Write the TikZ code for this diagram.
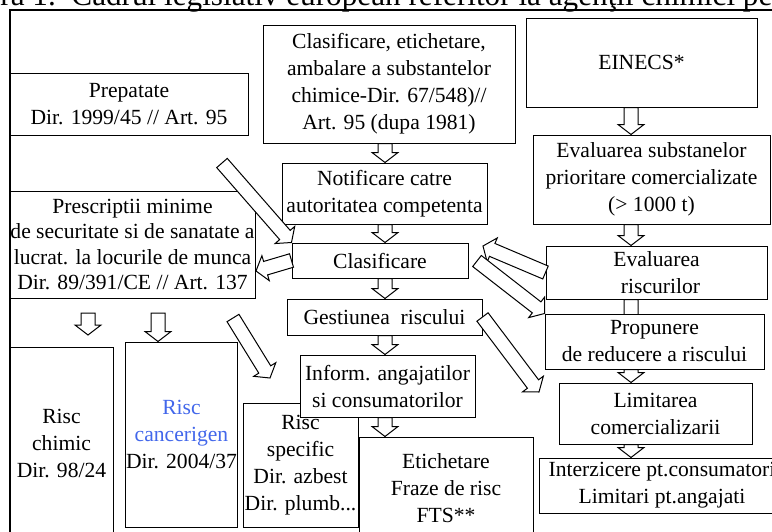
\documentclass[tikz,border=0pt]{standalone}
\usepackage{fontspec}
\setmainfont{Liberation Serif}
\usepackage{xcolor}
\usetikzlibrary{calc,backgrounds}
\definecolor{riscblue}{RGB}{66,103,235}

% hollow block arrow from #1 to #2
\newcommand{\fatarrow}[2]{%
  \coordinate (fa-h) at ($(#2)!5pt!(#1)$);
  \draw[fatline] ($(#1)!3.5pt!90:(#2)$) -- ($(fa-h)!3.5pt!90:(#2)$)
    -- ($(fa-h)!6.5pt!90:(#2)$) -- (#2) -- ($(fa-h)!6.5pt!-90:(#2)$)
    -- ($(fa-h)!3.5pt!-90:(#2)$) -- ($(#1)!3.5pt!-90:(#2)$) -- cycle;}

\begin{document}
\begin{tikzpicture}[x=0.5pt, y=-0.5pt,
  box/.style={draw, line width=0.5pt, fill=white, align=center, inner sep=0pt,
    font=\fontsize{10.8}{13.5}\selectfont},
  fatline/.style={line width=0.5pt, draw=black, fill=white, line join=miter}]
  \useasboundingbox (0,0) rectangle (772,531);

  %title, cut at the top
  \node[anchor=base west, inner sep=0pt, font=\fontsize{15.6}{18}\selectfont] (title) at (0,5)
    {ra 1.\ \ Cadrul legislativ european referitor la agenţii chimici per};

  %top row
  \node[box, minimum width=119pt, minimum height=31pt] (prep) at (129,104)
    {Prepatate\\Dir. 1999/45 // Art. 95};
  \node[box, minimum width=126pt, minimum height=59pt] (cet) at (389,84)
    {Clasificare, etichetare,\\ambalare a substantelor\\chimice-Dir. 67/548)//\\Art. 95 (dupa 1981)};
  \node[box, minimum width=115.5pt, minimum height=44.5pt] (einecs) at (641.5,62.5) {EINECS*};

  %middle column
  \node[box, minimum width=102.5pt, minimum height=30.5pt] (notif) at (384.5,193.5)
    {Notificare catre\\autoritatea competenta};
  \node[box, minimum width=88pt, minimum height=17.5pt] (clas) at (380,260.5) {Clasificare};
  \node[box, minimum width=97.5pt, minimum height=18pt] (gest) at (384.5,317)
    {Gestiunea\ \ riscului};

  %right column
  \node[box, minimum width=118.5pt, minimum height=44.5pt] (evs) at (651.5,179.5)
    {Evaluarea substanelor\\prioritare comercializate\\(> 1000 t)};
  \node[box, minimum width=110.5pt, minimum height=26.5pt] (evr) at (656.5,272.5)
    {Evaluarea\\\hspace*{4pt}riscurilor};
  \node[box, minimum width=109.5pt, minimum height=27.5pt] (prop) at (654.5,341.5)
    {Propunere\\de reducere a riscului};
  \node[box, minimum width=96.5pt, minimum height=30.5pt] (limit) at (655.5,413.5)
    {Limitarea\\comercializarii};
  \node[box, minimum width=123pt, minimum height=27.5pt] (interz) at (662,485.5)
    {Interzicere pt.consumatori\\Limitari pt.angajati};

  %left boxes
  \node[box, minimum width=122.5pt, minimum height=53.5pt, font=\fontsize{10.8}{12.8}\selectfont] (presc) at (132.5,244.5)
    {Prescriptii minime\\de securitate si de sanatate a\\lucrat. la locurile de munca\\Dir. 89/391/CE // Art. 137};
  \node[box, minimum width=51.5pt, minimum height=96.5pt] (chim) at (61.5,443.5)
    {Risc\\chimic\\Dir. 98/24};
  \node[box, minimum width=54.5pt, minimum height=92.5pt] (canc) at (181.5,434.5)
    {\textcolor{riscblue}{Risc}\\\textcolor{riscblue}{cancerigen}\\Dir. 2004/37};
  \node[box, minimum width=57.5pt, minimum height=62pt] (spec) at (300.5,465)
    {Risc\\specific\\Dir. azbest\\Dir. plumb...};
  \node[box, minimum width=87.5pt, minimum height=31pt] (inform) at (387.5,386)
    {Inform. angajatilor\\si consumatorilor};
  \node[box, minimum width=87pt, minimum height=51.5pt] (etich) at (446,488.5)
    {Etichetare\\Fraze de risc\\FTS**};

  %arrow columns and free ends
  \coordinate (mcol) at (385,0);
  \coordinate (rcol) at (631,0);
  \coordinate (s1) at (222,163);
  \coordinate (t2) at (256,271);
  \coordinate (t3) at (483,246);
  \coordinate (s4) at (477,261);
  \coordinate (t5) at (539,392);
  \coordinate (s6) at (233,318);
  \coordinate (t6) at (270,378);
  \coordinate (s7) at (88,313);
  \coordinate (t7) at (88,335);
  \coordinate (s8) at (158,313);

  %down arrows
  \fatarrow{mcol |- cet.south}{mcol |- notif.north}
  \fatarrow{mcol |- notif.south}{mcol |- clas.north}
  \fatarrow{mcol |- clas.south}{mcol |- gest.north}
  \fatarrow{mcol |- gest.south}{mcol |- inform.north}
  \fatarrow{mcol |- inform.south}{mcol |- etich.north}
  \fatarrow{rcol |- einecs.south}{rcol |- evs.north}
  \fatarrow{rcol |- evs.south}{rcol |- evr.north}
  \begin{pgfonlayer}{background}
    \fatarrow{rcol |- evr.south}{rcol |- prop.center}
  \end{pgfonlayer}
  \fatarrow{rcol |- prop.south}{rcol |- limit.north}
  \fatarrow{rcol |- limit.south}{rcol |- interz.north}
  \fatarrow{s7}{t7}
  \fatarrow{s8}{s8 |- canc.north}

  %slanted arrows
  \fatarrow{s1}{clas.north west}
  \fatarrow{clas.west}{t2}
  \fatarrow{evr.west}{t3}
  \fatarrow{s4}{prop.north west}
  \fatarrow{gest.east}{t5}
  \fatarrow{s6}{t6}

  %frame
  \draw[line width=1pt] (10,545) -- (10,10) -- (785,10);
\end{tikzpicture}
\end{document}
